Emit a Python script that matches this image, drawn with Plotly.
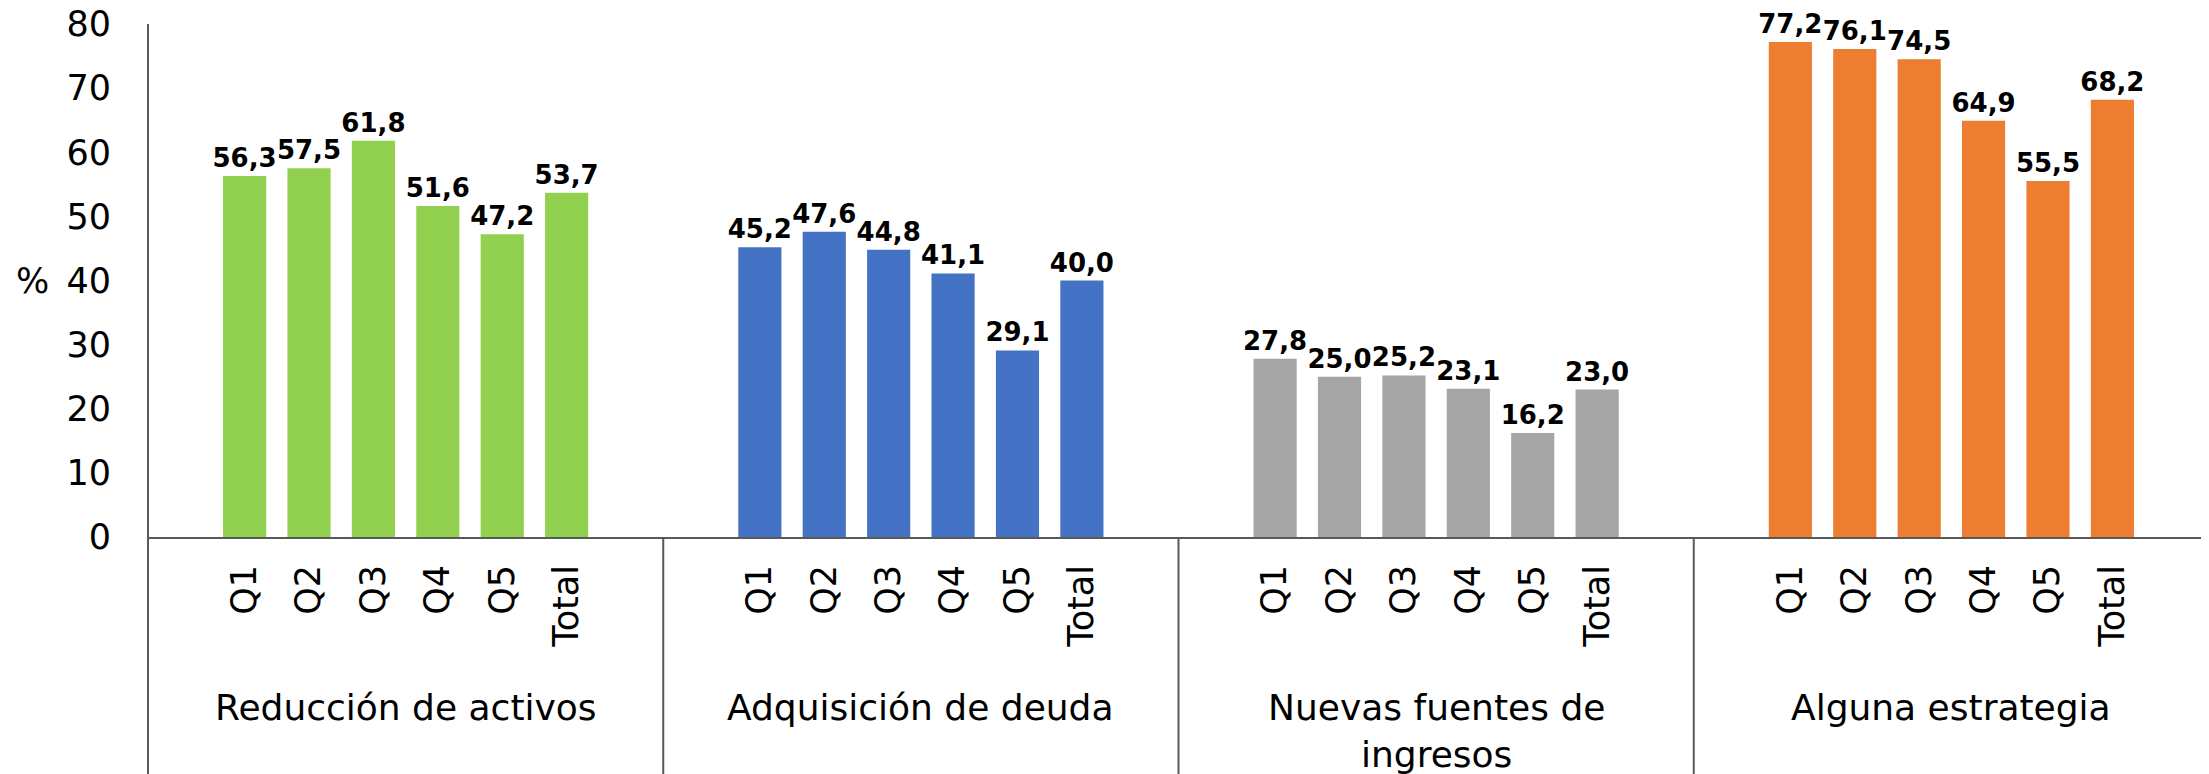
import plotly.graph_objects as go

# data
groups = ["Reducción de activos", "Adquisición de deuda",
          "Nuevas fuentes de<br>ingresos", "Alguna estrategia"]
quintiles = ["Q1", "Q2", "Q3", "Q4", "Q5", "Total"]
reduccion = [56.3, 57.5, 61.8, 51.6, 47.2, 53.7]
deuda = [45.2, 47.6, 44.8, 41.1, 29.1, 40.0]
ingresos = [27.8, 25.0, 25.2, 23.1, 16.2, 23.0]
alguna = [77.2, 76.1, 74.5, 64.9, 55.5, 68.2]
colors = ["#92D050", "#4472C4", "#A5A5A5", "#ED7D31"]

series = [reduccion, deuda, ingresos, alguna]
slots = 8  # blank, Q1..Q5, Total, blank
font = "DejaVu Sans, Verdana, sans-serif"
line_col = "#595959"

fig = go.Figure()
tickvals, ticktext = [], []
for g, vals in enumerate(series):
    xs = [g * slots + 1 + i for i in range(len(vals))]
    tickvals += xs
    ticktext += quintiles
    fig.add_trace(go.Bar(
        x=xs, y=vals,
        marker=dict(color=colors[g], line=dict(width=0)),
        texttemplate="%{y:.1f}", textposition="outside",
        constraintext="none", cliponaxis=False,
        textfont=dict(family=font, size=26, color="black", weight="bold"),
        showlegend=False,
    ))

shapes = [dict(type="line", xref="paper", yref="paper", x0=0, x1=0, y0=-0.48, y1=1,
               line=dict(color=line_col, width=2))]
for g in range(1, len(groups)):
    xsep = g * slots - 0.5
    shapes.append(dict(type="line", xref="x", yref="paper", x0=xsep, x1=xsep,
                       y0=0, y1=-0.48, line=dict(color=line_col, width=2)))

annotations = []
for g, name in enumerate(groups):
    annotations.append(dict(
        text=name, x=g * slots + 3.5, xref="x", y=-0.288, yref="paper",
        xanchor="center", yanchor="top", showarrow=False,
        font=dict(family=font, size=36, color="black"),
    ))
annotations.append(dict(text="%", x=-0.056, xref="paper", y=40, yref="y",
                        xanchor="center", yanchor="middle", showarrow=False,
                        font=dict(family=font, size=35, color="black")))

# page body adds an 8px offset, so the figure is sized to end at the window edge
fig.update_layout(
    width=2201, height=766,
    margin=dict(l=140, r=0, t=16, b=237),
    plot_bgcolor="white", paper_bgcolor="white",
    separators=",.",
    bargap=0.33,
    shapes=shapes, annotations=annotations,
    xaxis=dict(range=[-0.5, len(groups) * slots - 0.5], tickvals=tickvals, ticktext=ticktext,
               tickangle=-90, showgrid=False, zeroline=False, automargin=False,
               showline=True, linecolor=line_col, linewidth=2,
               ticks="", ticklabelstandoff=12,
               tickfont=dict(family=font, size=35, color="black")),
    yaxis=dict(range=[0, 80], dtick=10, showgrid=False, zeroline=False, showline=False,
               ticks="", ticklabelstandoff=36, automargin=False, ticklabeloverflow="allow",
               tickfont=dict(family=font, size=35, color="black")),
)

fig.write_html("out.html")
